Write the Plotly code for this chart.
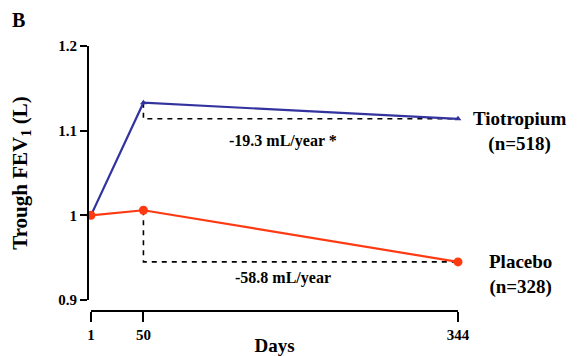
import plotly.graph_objects as go

days = [1, 50, 344]
tiotropium = [1.0, 1.133, 1.114]
placebo = [1.0, 1.006, 0.945]
y_ticks = [0.9, 1.0, 1.1, 1.2]
y_ticklabels = ["0.9", "1", "1.1", "1.2"]
x_ticks = [1, 50, 344]
tio_label = "Tiotropium<br>(n=518)"
pla_label = "Placebo<br>(n=328)"
tio_slope = "-19.3 mL/year *"
pla_slope = "-58.8 mL/year"

BLUE = "#33339f"
RED = "#ff3a12"
FONT = "Liberation Serif"

fig = go.Figure()

# dashed reference lines (from day 50 value down to the final value, then across)
for series in (tiotropium, placebo):
    fig.add_trace(go.Scatter(
        x=[days[1], days[1], days[2]],
        y=[series[1], series[2], series[2]],
        mode="lines",
        line=dict(color="black", width=1.6, dash="5px,5px"),
        hoverinfo="skip", showlegend=False, cliponaxis=False))

fig.add_trace(go.Scatter(
    x=days, y=tiotropium, mode="lines+markers",
    line=dict(color=BLUE, width=2.2),
    marker=dict(symbol="triangle-up", size=6, color=BLUE),
    showlegend=False, cliponaxis=False))
fig.add_trace(go.Scatter(
    x=days, y=placebo, mode="lines+markers",
    line=dict(color=RED, width=2.2),
    marker=dict(symbol="circle", size=9, color=RED),
    showlegend=False, cliponaxis=False))

ann_font = dict(family=FONT, size=16, color="black")
lab_font = dict(family=FONT, size=19, color="black")

fig.add_annotation(x=180, y=tiotropium[2], xref="x", yref="y", text="<b>%s</b>" % tio_slope,
                   showarrow=False, yshift=-22, font=ann_font)
fig.add_annotation(x=180, y=placebo[2], xref="x", yref="y", text="<b>%s</b>" % pla_slope,
                   showarrow=False, yshift=-16, font=ann_font)
fig.add_annotation(x=days[2], y=tiotropium[2], xref="x", yref="y", text="<b>%s</b>" % tio_label,
                   showarrow=False, xanchor="center", yanchor="top", xshift=61, yshift=13,
                   font=lab_font, align="center")
fig.add_annotation(x=days[2], y=placebo[2], xref="x", yref="y", text="<b>%s</b>" % pla_label,
                   showarrow=False, xanchor="center", yanchor="top", xshift=62, yshift=13,
                   font=lab_font, align="center")
fig.add_annotation(x=0, y=1, xref="paper", yref="paper", text="<b>B</b>",
                   showarrow=False, xanchor="center", yanchor="middle",
                   xshift=-70, yshift=26, font=dict(family=FONT, size=20, color="black"))

fig.update_layout(
    width=577, height=356,
    margin=dict(l=88, r=119, t=46, b=45),
    plot_bgcolor="white", paper_bgcolor="white",
    font=dict(family=FONT, color="black"),
    xaxis=dict(
        domain=[3 / 370, 1], range=[1, 344], anchor="free", position=0, automargin=False,
        showgrid=False, zeroline=False, showline=True, linecolor="black", linewidth=2,
        ticks="outside", ticklen=10, tickwidth=2, tickcolor="black",
        tickvals=x_ticks, ticktext=["<b>%s</b>" % v for v in x_ticks],
        tickfont=dict(family=FONT, size=15, color="black"),
        title=dict(text="<b>Days</b>", font=dict(family=FONT, size=19), standoff=2)),
    yaxis=dict(
        domain=[11 / 265, 1], range=[0.9, 1.2], anchor="free", position=0, automargin=False,
        showgrid=False, zeroline=False, showline=True, linecolor="black", linewidth=2,
        ticks="outside", ticklen=7, tickwidth=2, tickcolor="black",
        tickvals=y_ticks, ticktext=["<b>%s</b>" % t for t in y_ticklabels],
        tickfont=dict(family=FONT, size=15, color="black"),
        title=dict(text="<b>Trough FEV<sub>1</sub> (L)</b>", font=dict(family=FONT, size=21), standoff=24)),
)

fig.write_html("out.html", config={"displayModeBar": False},
               post_script="document.body.style.margin='0';")
